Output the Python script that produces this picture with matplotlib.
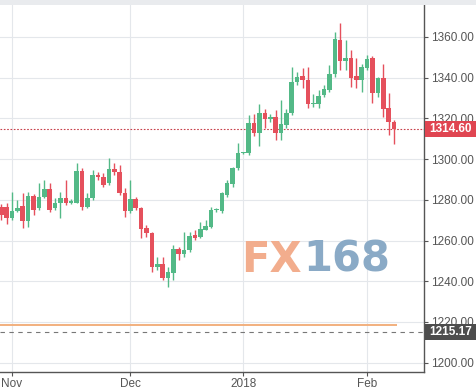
import pandas as pd
import matplotlib
matplotlib.use("Agg")
from matplotlib import pyplot as plt
from matplotlib.patches import Rectangle

# daily gold candles, 30 Oct 2017 - 8 Feb 2018
dates = pd.bdate_range("2017-10-30", "2018-02-08")
opens = [1276.5, 1276.5, 1271.0, 1274.5, 1276.9, 1269.6, 1281.9, 1276.0, 1281.4, 1285.3,
         1276.0, 1278.4, 1280.9, 1278.4, 1278.4, 1294.1, 1276.5, 1280.9, 1292.2, 1291.2,
         1288.2, 1295.1, 1293.7, 1283.3, 1274.5, 1280.4, 1276.0, 1266.1, 1263.7, 1247.0,
         1248.5, 1241.6, 1244.0, 1255.8, 1253.4, 1255.3, 1262.7, 1261.7, 1265.2, 1266.6,
         1275.0, 1274.5, 1282.4, 1287.8, 1295.6, 1303.0, 1303.0, 1317.7, 1312.8, 1322.7,
         1319.7, 1320.7, 1312.8, 1316.8, 1322.7, 1337.9, 1340.8, 1338.9, 1327.1, 1327.1,
         1331.5, 1333.9, 1341.8, 1358.5, 1348.2, 1349.7, 1340.8, 1338.9, 1344.8, 1349.7,
         1332.5, 1339.8, 1325.1, 1318.2]
highs = [1278.0, 1278.4, 1283.8, 1279.9, 1283.3, 1283.8, 1283.0, 1288.2, 1289.7, 1288.2,
         1280.9, 1283.8, 1289.7, 1280.4, 1298.1, 1295.6, 1283.3, 1294.6, 1293.7, 1293.2,
         1300.5, 1298.1, 1297.1, 1285.8, 1289.7, 1281.4, 1276.5, 1267.6, 1264.2, 1251.9,
         1251.9, 1247.0, 1257.8, 1256.8, 1264.2, 1264.2, 1265.2, 1269.1, 1270.1, 1276.5,
         1276.0, 1283.8, 1289.7, 1296.1, 1307.9, 1303.5, 1321.7, 1322.2, 1327.1, 1324.6,
         1322.0, 1324.1, 1329.0, 1324.6, 1345.3, 1342.8, 1344.8, 1345.3, 1332.0, 1333.9,
         1336.4, 1346.2, 1362.5, 1366.9, 1358.5, 1353.6, 1349.7, 1346.7, 1351.2, 1350.7,
         1340.3, 1346.7, 1332.5, 1319.2]
lows = [1270.0, 1268.1, 1270.1, 1274.0, 1266.1, 1266.6, 1272.5, 1275.0, 1280.9, 1274.0,
        1275.0, 1271.0, 1277.5, 1277.9, 1278.4, 1275.0, 1276.0, 1279.9, 1289.7, 1286.3,
        1287.3, 1292.2, 1282.4, 1271.5, 1273.5, 1275.0, 1261.2, 1261.7, 1244.5, 1245.5,
        1240.6, 1237.1, 1240.6, 1250.4, 1251.9, 1254.4, 1260.2, 1261.2, 1265.2, 1266.1,
        1274.0, 1273.5, 1281.4, 1286.3, 1294.6, 1302.5, 1302.0, 1311.4, 1306.4, 1315.3,
        1318.0, 1309.4, 1309.4, 1315.3, 1321.7, 1336.4, 1334.9, 1325.1, 1325.5, 1325.1,
        1330.5, 1333.0, 1340.3, 1343.8, 1343.8, 1335.4, 1334.9, 1333.0, 1343.8, 1327.6,
        1330.5, 1320.7, 1311.8, 1307.4]
closes = [1272.5, 1271.0, 1274.5, 1276.0, 1269.6, 1281.9, 1275.0, 1281.4, 1285.3, 1275.0,
          1278.4, 1280.9, 1278.4, 1279.2, 1294.1, 1276.5, 1280.9, 1292.2, 1291.2, 1287.3,
          1295.1, 1293.7, 1283.3, 1274.5, 1280.4, 1276.0, 1265.6, 1263.7, 1247.0, 1248.5,
          1241.6, 1244.5, 1255.8, 1253.4, 1255.3, 1262.2, 1261.2, 1265.6, 1267.1, 1275.0,
          1275.3, 1283.3, 1288.2, 1295.6, 1303.0, 1303.2, 1317.7, 1312.8, 1322.7, 1319.7,
          1320.7, 1312.8, 1317.2, 1322.7, 1337.9, 1340.3, 1338.9, 1327.1, 1327.3, 1331.0,
          1334.4, 1341.8, 1359.0, 1348.2, 1349.7, 1339.8, 1338.9, 1345.3, 1349.2, 1332.5,
          1339.8, 1324.6, 1318.2, 1314.60]

last_price = 1314.60
ref_price = 1215.17
orange_level = 1218.5
y_ticks = [1200, 1220, 1240, 1260, 1280, 1300, 1320, 1340, 1360]
month_labels = ["Nov", "Dec", "2018", "Feb"]

green = "#53b987"
red = "#e5505c"

fig = plt.figure(figsize=(4.77, 3.88), dpi=100)
fig.patch.set_facecolor("white")
ax = fig.add_axes([0, 16 / 388, 424 / 477, 367 / 388])

x = list(range(len(dates)))
cols = [green if c >= o else red for o, c in zip(opens, closes)]
bottoms = [min(o, c) for o, c in zip(opens, closes)]
heights = [max(abs(c - o), 0.6) for o, c in zip(opens, closes)]

ax.vlines(x, lows, highs, colors=cols, linewidth=1, zorder=3)
ax.bar(x, heights, bottom=bottoms, width=0.85, color=cols, linewidth=0, zorder=4)

# month ticks at the first trading day of each month
month_pos = [i for i in range(1, len(dates)) if dates[i].month != dates[i - 1].month]
ax.set_xticks(month_pos)
ax.set_xticklabels(month_labels)
ax.set_yticks(y_ticks)
ax.set_yticklabels([f"{v:.2f}" for v in y_ticks])
ax.set_xlim(-0.23, 78.58)
ax.set_ylim(1195.4, 1375.7)

ax.grid(True, color="#e4e7eb", linewidth=0.8, zorder=0)
ax.set_axisbelow(True)
for s in ["top", "left"]:
    ax.spines[s].set_visible(False)
for s in ["right", "bottom"]:
    ax.spines[s].set_color("#555555")
    ax.spines[s].set_linewidth(1.0)
ax.yaxis.tick_right()
ax.tick_params(axis="y", length=3, color="#555555", labelcolor="#555555",
               labelsize=8.5, pad=2)
ax.tick_params(axis="x", length=3, color="#555555", labelcolor="#555555",
               labelsize=8.5, pad=1)
for lab in ax.get_xticklabels() + ax.get_yticklabels():
    lab.set_fontfamily("Liberation Sans")

# level lines
ax.axhline(last_price, color="#c8404a", linewidth=0.8, linestyle=(0, (1.5, 1.5)), zorder=2)
ax.hlines(orange_level, -0.23, 73.6, color="#f2b07e", linewidth=1.4, zorder=2)
ax.axhline(ref_price, color="#777777", linewidth=0.8, linestyle=(0, (4, 4)), zorder=2)

# watermark
ax.text(0.712, 0.3065, "FX", transform=ax.transAxes, ha="right", va="center",
        fontsize=30, fontweight="bold", color="#f2ad8d", zorder=1)
ax.text(0.716, 0.3065, "168", transform=ax.transAxes, ha="left", va="center",
        fontsize=30, fontweight="bold", color="#8aaac6", zorder=1)

# price labels on the axis
def price_tag(price, face):
    ytop = ax.transData.transform((0, price))[1]
    yfig = ytop / fig.bbox.height
    h = 16 / 388
    fig.patches.append(Rectangle((425 / 477, yfig - h / 2), 52 / 477, h,
                                 transform=fig.transFigure, facecolor=face,
                                 edgecolor="none", zorder=5))
    fig.text(451 / 477, yfig, f"{price:.2f}", ha="center", va="center",
             color="white", fontsize=8.5, fontweight="bold",
             fontfamily="Liberation Sans", zorder=6)

price_tag(last_price, "#e04551")
price_tag(ref_price, "#4d4d4d")

# header strip
fig.patches.append(Rectangle((0, 383 / 388), 1, 5 / 388, transform=fig.transFigure,
                             facecolor="#e9ebee", edgecolor="none"))

fig.savefig("out.png", dpi=100)
